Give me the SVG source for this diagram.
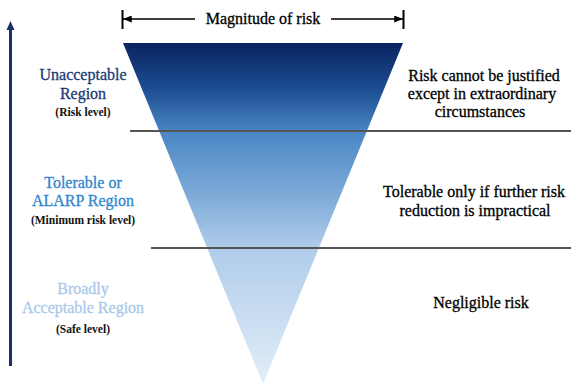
<svg xmlns="http://www.w3.org/2000/svg" width="571" height="387" viewBox="0 0 571 387">
<defs>
<linearGradient id="tri" x1="0" y1="43" x2="0" y2="384" gradientUnits="userSpaceOnUse">
<stop offset="0" stop-color="#0A2360"/>
<stop offset="0.14" stop-color="#1E4F94"/>
<stop offset="0.26" stop-color="#4A87C4"/>
<stop offset="0.45" stop-color="#7FABD8"/>
<stop offset="0.6" stop-color="#AFCCEA"/>
<stop offset="1" stop-color="#E3EEF9"/>
</linearGradient>
<marker id="hHead" viewBox="0 0 10 8" refX="10" refY="4" markerWidth="9" markerHeight="7" markerUnits="userSpaceOnUse" orient="auto-start-reverse">
<path d="M0,0 L10,4 L0,8 Z" fill="#000"/>
</marker>
</defs>
<style>
text{font-family:"Liberation Serif","Times New Roman","DejaVu Serif",serif;text-anchor:middle}
.t{font-size:16px;fill:#000;stroke:#000;stroke-width:0.3}
.sub{font-size:11.5px;font-weight:bold;fill:#111}
.r1{font-size:16px;fill:#1B3A73;stroke:#1B3A73;stroke-width:0.3}
.r2{font-size:16px;fill:#2F86CC;stroke:#2F86CC;stroke-width:0.3}
.r3{font-size:16px;fill:#A9C9EA;stroke:#A9C9EA;stroke-width:0.3}
.div{stroke:#555;stroke-width:2}
</style>
<g id="funnel">
<polygon points="123,43 403,43 263,384" fill="url(#tri)"/>
</g>
<g id="connectors">
<line x1="10.5" y1="366" x2="10.5" y2="28" stroke="#1A2F6B" stroke-width="3"/>
<polygon points="10.5,21 14.5,30 6.5,30" fill="#1A2F6B"/>
<line x1="123" y1="19" x2="195" y2="19" stroke="#000" stroke-width="1.3" marker-start="url(#hHead)"/>
<line x1="331" y1="19" x2="403" y2="19" stroke="#000" stroke-width="1.3" marker-end="url(#hHead)"/>
<line x1="122.5" y1="10" x2="122.5" y2="29" stroke="#000" stroke-width="2"/>
<line x1="403.5" y1="10" x2="403.5" y2="29" stroke="#000" stroke-width="2"/>
<line class="div" x1="130" y1="131" x2="571" y2="131"/>
<line class="div" x1="151" y1="248" x2="571" y2="248"/>
</g>
<g id="magnitude">
<text class="t" x="263" y="24">Magnitude of risk</text>
</g>
<g id="unacceptable">
<text class="r1" x="83" y="80">Unacceptable</text>
<text class="r1" x="83" y="99">Region</text>
<text class="sub" x="83" y="116">(Risk level)</text>
</g>
<g id="tolerable">
<text class="r2" x="83" y="188">Tolerable or</text>
<text class="r2" x="83" y="206">ALARP Region</text>
<text class="sub" x="83" y="224">(Minimum risk level)</text>
</g>
<g id="broadly">
<text class="r3" x="83" y="294">Broadly</text>
<text class="r3" x="83" y="313">Acceptable Region</text>
<text class="sub" x="83" y="333">(Safe level)</text>
</g>
<g id="desc-unacceptable">
<text class="t" x="484" y="81">Risk cannot be justified</text>
<text class="t" x="482" y="99">except in extraordinary</text>
<text class="t" x="480" y="117">circumstances</text>
</g>
<g id="desc-tolerable">
<text class="t" x="474" y="197">Tolerable only if further risk</text>
<text class="t" x="475" y="216">reduction is impractical</text>
</g>
<g id="desc-broadly">
<text class="t" x="481" y="308">Negligible risk</text>
</g>
</svg>
